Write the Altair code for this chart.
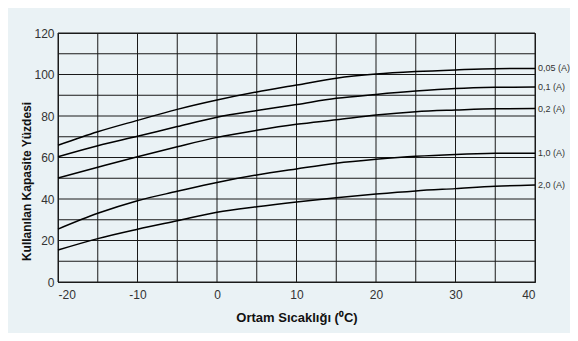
import altair as alt
import pandas as pd

temps = [-20, -15, -10, -5, 0, 5, 10, 15, 20, 25, 30, 35, 40]
c005 = [65.9, 72.4, 77.9, 83.2, 87.7, 91.6, 94.9, 98.2, 100.2, 101.4, 102.2, 102.8, 102.9]
c01 = [60.4, 65.7, 70.2, 74.9, 79.4, 82.6, 85.5, 88.5, 90.4, 92.0, 93.2, 93.8, 94.0]
c02 = [50.1, 55.3, 60.4, 65.2, 69.7, 73.1, 76.0, 78.2, 80.5, 82.1, 82.9, 83.5, 83.6]
c10 = [25.5, 33.1, 39.2, 43.7, 48.0, 51.6, 54.5, 57.2, 59.1, 60.6, 61.5, 62.0, 62.1]
c20 = [15.4, 20.9, 25.4, 29.5, 33.6, 36.3, 38.6, 40.6, 42.4, 43.9, 45.0, 46.1, 46.7]
series_names = ["0,05 (A)", "0,1 (A)", "0,2 (A)", "1,0 (A)", "2,0 (A)"]
series_vals = [c005, c01, c02, c10, c20]
x_grid = [-20, -15, -10, -5, 0, 5, 10, 15, 20, 25, 30, 35, 40]
y_grid = [0, 10, 20, 30, 40, 50, 60, 70, 80, 90, 100, 110, 120]
x_labels = [-20, -10, 0, 10, 20, 30, 40]
y_labels = [0, 20, 40, 60, 80, 100, 120]

rows = []
for name, vals in zip(series_names, series_vals):
    for t, v in zip(temps, vals):
        rows.append({"temp": t, "val": v, "seri": name})
df = pd.DataFrame(rows)
lab = pd.DataFrame({"temp": [40] * 5, "val": [v[-1] for v in series_vals], "seri": series_names})
xg = pd.DataFrame({"g": x_grid})
yg = pd.DataFrame({"g": y_grid})

FONT = "Liberation Sans"
GRID = "#1a1a1a"

xs = alt.Scale(domain=[-20, 40], nice=False, zero=False)
ys = alt.Scale(domain=[0, 120], nice=False)

xax = alt.Axis(values=x_labels, labelExpr="'' + datum.value", grid=False,
               tickSize=0, labelPadding=7, labelFontSize=12, labelColor="#333",
               labelFont=FONT, domainColor=GRID,
               title="Ortam Sıcaklığı (⁰C)", titleFont=FONT, titleFontSize=13,
               titleFontWeight="bold", titleColor="#111", titleX=238.5, titleY=35,
               titleBaseline="middle", titleAlign="center")
yax = alt.Axis(values=y_labels, labelExpr="'' + datum.value", grid=False,
               tickSize=0, labelPadding=4, labelFontSize=12, labelColor="#333",
               labelFont=FONT, domainColor=GRID,
               title="Kullanılan Kapasite Yüzdesi", titleFont=FONT, titleFontSize=12,
               titleFontWeight="bold", titleColor="#111", titleX=-32, titleY=148,
               titleAngle=-90, titleBaseline="middle", titleAlign="center")

vgrid = alt.Chart(xg).mark_rule(color=GRID, strokeWidth=1).encode(
    x=alt.X("g:Q", scale=xs, axis=xax))
hgrid = alt.Chart(yg).mark_rule(color=GRID, strokeWidth=1).encode(
    y=alt.Y("g:Q", scale=ys, axis=yax))

lines = alt.Chart(df).mark_line(color="black", strokeWidth=1.5, interpolate="monotone").encode(
    x=alt.X("temp:Q", scale=xs),
    y=alt.Y("val:Q", scale=ys),
    detail="seri:N",
)

labels = alt.Chart(lab).mark_text(align="left", baseline="middle", dx=3, fontSize=9,
                                   font=FONT, color="#333").encode(
    x=alt.X("temp:Q", scale=xs),
    y=alt.Y("val:Q", scale=ys),
    text="seri:N",
)

chart = alt.layer(vgrid, hgrid, lines, labels).properties(
    width=477, height=249,
    autosize=alt.AutoSizeParams(type="none"),
    padding={"left": 50, "top": 25, "right": 35, "bottom": 51},
    background="#eaf2f5",
).configure_view(stroke=GRID, strokeWidth=1)

chart.save("out.html", embed_options={"renderer": "svg", "actions": False})
